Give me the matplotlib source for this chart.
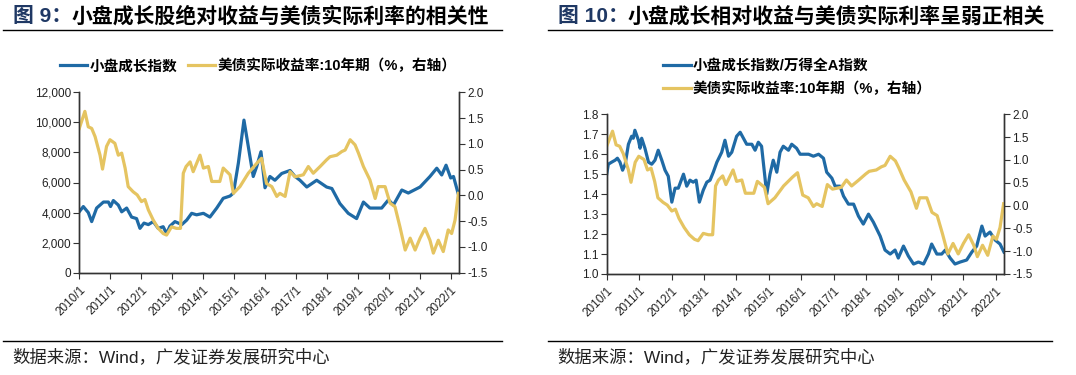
import numpy as np
import matplotlib
matplotlib.use("Agg")
import matplotlib.pyplot as plt
from matplotlib.font_manager import FontProperties
from matplotlib.lines import Line2D
from matplotlib.ticker import FuncFormatter, MultipleLocator

plt.rcParams['font.family'] = ['Liberation Sans', 'Noto Sans CJK SC', 'DejaVu Sans']

# ---- data ----
# small-cap growth index (left chart, left axis)
yr_growth = [2010.00, 2010.13, 2010.29, 2010.40, 2010.56, 2010.78, 2010.94, 2011.01, 2011.10, 2011.26,
             2011.37, 2011.53, 2011.69, 2011.85, 2011.96, 2012.09, 2012.23, 2012.39, 2012.55, 2012.71,
             2012.82, 2012.93, 2013.09, 2013.31, 2013.47, 2013.63, 2013.79, 2014.01, 2014.22, 2014.44,
             2014.65, 2014.87, 2014.98, 2015.14, 2015.32, 2015.46, 2015.62, 2015.73, 2015.87, 2016.00,
             2016.16, 2016.32, 2016.54, 2016.81, 2016.97, 2017.13, 2017.35, 2017.67, 2017.99, 2018.16,
             2018.42, 2018.69, 2018.96, 2019.18, 2019.39, 2019.77, 2019.99, 2020.15, 2020.42, 2020.63,
             2021.01, 2021.33, 2021.55, 2021.71, 2021.85, 2022.00, 2022.09, 2022.25]
growth_idx = [4060, 4400, 4000, 3400, 4300, 4700, 4700, 4400, 4800, 4500,
              4050, 4300, 3700, 3600, 2950, 3300, 3200, 3400, 2950, 3060,
              2600, 3100, 3400, 3200, 3500, 3950, 3850, 3950, 3700, 4300,
              4950, 5100, 5300, 7300, 10150, 8400, 6400, 7050, 8050, 5650,
              6400, 6150, 6600, 6800, 6400, 6150, 5700, 6150, 5700, 5600,
              4600, 3950, 3600, 4700, 4300, 4300, 4850, 4500, 5500, 5300,
              5700, 6400, 6950, 6500, 7150, 6300, 6400, 5200]

# small-cap growth / Wind All A (right chart, left axis)
yr_rel = [2010.00, 2010.05, 2010.15, 2010.26, 2010.33, 2010.41, 2010.49, 2010.57, 2010.67, 2010.77,
          2010.82, 2010.87, 2010.98, 2011.03, 2011.08, 2011.18, 2011.29, 2011.39, 2011.49, 2011.59,
          2011.70, 2011.80, 2011.90, 2012.01, 2012.11, 2012.21, 2012.37, 2012.47, 2012.57, 2012.67,
          2012.76, 2012.86, 2012.98, 2013.09, 2013.19, 2013.29, 2013.40, 2013.55, 2013.65, 2013.76,
          2013.86, 2014.01, 2014.12, 2014.22, 2014.32, 2014.48, 2014.58, 2014.68, 2014.78, 2014.94,
          2015.04, 2015.14, 2015.25, 2015.35, 2015.45, 2015.61, 2015.71, 2015.86, 2015.97, 2016.23,
          2016.38, 2016.54, 2016.69, 2016.79, 2016.95, 2017.05, 2017.20, 2017.31, 2017.46, 2017.62,
          2017.77, 2017.92, 2018.08, 2018.23, 2018.44, 2018.59, 2018.75, 2018.90, 2019.00, 2019.16,
          2019.31, 2019.47, 2019.62, 2019.78, 2019.93, 2020.03, 2020.19, 2020.34, 2020.45, 2020.60,
          2020.75, 2020.91, 2021.11, 2021.27, 2021.42, 2021.58, 2021.68, 2021.83, 2021.99, 2022.14,
          2022.26]
rel_ratio = [1.50, 1.55, 1.56, 1.57, 1.58, 1.56, 1.52, 1.55, 1.65, 1.69,
             1.68, 1.72, 1.67, 1.63, 1.68, 1.63, 1.56, 1.55, 1.57, 1.62,
             1.57, 1.52, 1.49, 1.36, 1.43, 1.43, 1.50, 1.44, 1.47, 1.46,
             1.47, 1.36, 1.42, 1.46, 1.47, 1.51, 1.56, 1.61, 1.67, 1.59,
             1.61, 1.69, 1.71, 1.68, 1.65, 1.65, 1.62, 1.66, 1.64, 1.40,
             1.50, 1.57, 1.51, 1.61, 1.64, 1.62, 1.65, 1.63, 1.60, 1.60,
             1.59, 1.60, 1.58, 1.51, 1.48, 1.44, 1.44, 1.39, 1.35, 1.35,
             1.29, 1.25, 1.30, 1.26, 1.19, 1.12, 1.10, 1.12, 1.08, 1.14,
             1.09, 1.05, 1.06, 1.05, 1.10, 1.15, 1.10, 1.10, 1.12, 1.08,
             1.05, 1.06, 1.07, 1.11, 1.14, 1.24, 1.19, 1.21, 1.17, 1.15,
             1.11]

# US 10y real yield, % (right axis on both charts)
yr_tips = [2010.00, 2010.18, 2010.29, 2010.40, 2010.51, 2010.67, 2010.75, 2010.88, 2010.99, 2011.15,
           2011.26, 2011.37, 2011.48, 2011.58, 2011.74, 2011.87, 2012.01, 2012.12, 2012.23, 2012.39,
           2012.55, 2012.71, 2012.82, 2012.98, 2013.14, 2013.27, 2013.36, 2013.45, 2013.58, 2013.68,
           2013.90, 2014.01, 2014.17, 2014.28, 2014.54, 2014.65, 2014.87, 2014.98, 2015.19, 2015.46,
           2015.73, 2015.89, 2016.05, 2016.22, 2016.38, 2016.48, 2016.65, 2016.81, 2016.97, 2017.24,
           2017.40, 2017.56, 2017.78, 2017.99, 2018.10, 2018.32, 2018.48, 2018.59, 2018.75, 2018.91,
           2019.02, 2019.18, 2019.39, 2019.56, 2019.66, 2019.88, 2020.04, 2020.20, 2020.36, 2020.53,
           2020.69, 2020.85, 2021.01, 2021.17, 2021.33, 2021.44, 2021.60, 2021.76, 2021.92, 2022.03,
           2022.14, 2022.25]
tips_10y = [1.30, 1.63, 1.33, 1.30, 1.14, 0.78, 0.51, 0.95, 1.08, 1.01,
            0.78, 0.82, 0.53, 0.17, 0.07, 0.01, -0.12, -0.08, -0.28, -0.48,
            -0.64, -0.74, -0.77, -0.61, -0.64, -0.64, 0.43, 0.56, 0.65, 0.46,
            0.78, 0.53, 0.56, 0.27, 0.27, 0.53, 0.40, 0.04, 0.17, 0.43,
            0.62, 0.72, 0.23, 0.17, -0.02, 0.04, -0.02, 0.46, 0.36, 0.40,
            0.56, 0.43, 0.56, 0.69, 0.75, 0.78, 0.85, 0.88, 1.08, 0.98,
            0.82, 0.56, 0.30, -0.06, 0.17, 0.17, -0.15, -0.22, -0.61, -1.06,
            -0.83, -1.06, -0.83, -0.64, -0.87, -1.12, -0.87, -1.09, -0.67, -0.74,
            -0.48, 0.04]

years = list(range(2010, 2023))
year_labels = [f"{y}/1" for y in years]

BLUE = "#1f6aa5"
GOLD = "#e5c461"
NAVY = "#1f3864"
W, H = 1076, 375

cjk = ['Liberation Sans', 'Noto Sans CJK SC', 'DejaVu Sans']
title_fp = FontProperties(family=cjk, weight='bold', size=15)
leg_fp = FontProperties(family=cjk, weight='bold', size=10.5)
src_fp = FontProperties(family=cjk, size=12.5)

fig = plt.figure(figsize=(W / 100, H / 100), dpi=100)


def fx(px):
    return px / W


def fy(py):
    return 1 - py / H


def style_axes(ax, ax2, xmax):
    ax.set_xlim(2010, xmax)
    ax.set_xticks(years)
    ax.set_xticklabels(year_labels, rotation=45, ha='right', rotation_mode='anchor', fontsize=7.8)
    for a in (ax, ax2):
        a.spines['top'].set_visible(False)
        for s in ('left', 'right', 'bottom'):
            a.spines[s].set_color('#333333')
            a.spines[s].set_linewidth(1.0)
        a.tick_params(direction='out', length=4, width=0.8, color='#333333', labelsize=8.5,
                      labelcolor='#222222', pad=2)
    ax.tick_params(axis='x', pad=4)
    ax2.set_ylim(-1.5, 2.0)
    ax2.yaxis.set_major_locator(MultipleLocator(0.5))
    ax2.yaxis.set_major_formatter(FuncFormatter(lambda v, p: f"{v:.1f}"))


def decorate(x0, x1, fig_no, title):
    fig.add_artist(Line2D([fx(x0), fx(x1)], [fy(30), fy(30)], color='black', lw=1))
    fig.add_artist(Line2D([fx(x0), fx(x1)], [fy(341), fy(341)], color='black', lw=1))
    fig.text(fx(x0 + 10), fy(16), f"图 {fig_no}：", fontproperties=title_fp, color=NAVY,
             ha='left', va='center')
    off = 69 if fig_no == 9 else 80
    fig.text(fx(x0 + off), fy(16), title, fontproperties=title_fp, color='black',
             ha='left', va='center')
    fig.text(fx(x0 + 9), fy(357), "数据来源：Wind，广发证券发展研究中心", fontproperties=src_fp,
             color='#222222', ha='left', va='center')


# ---- left chart: absolute ----
ax1 = fig.add_axes([fx(79.3), fy(272.7), fx(459 - 79.3), fy(92.3) - fy(272.7)])
ax1b = ax1.twinx()
l1, = ax1.plot(yr_growth, growth_idx, color=BLUE, lw=2.3, label="小盘成长指数")
l2, = ax1b.plot(yr_tips, tips_10y, color=GOLD, lw=2.3, label="美债实际收益率:10年期（%，右轴）")
ax1.set_ylim(0, 12000)
ax1.yaxis.set_major_locator(MultipleLocator(2000))
ax1.yaxis.set_major_formatter(FuncFormatter(lambda v, p: f"{v:,.0f}"))
style_axes(ax1, ax1b, 2010 + (459 - 79.3) / 30.95)
fig.legend(handles=[l1, l2], loc='center', bbox_to_anchor=(fx(258), fy(66)), ncol=2,
           frameon=False, prop=leg_fp, handlelength=1.9, handletextpad=0.15,
           columnspacing=0.7, borderaxespad=0)
decorate(3, 502, 9, "小盘成长股绝对收益与美债实际利率的相关性")

# ---- right chart: relative ----
ax3 = fig.add_axes([fx(606.7), fy(274), fx(1004 - 606.7), fy(114.3) - fy(274)])
ax3b = ax3.twinx()
l3, = ax3.plot(yr_rel, rel_ratio, color=BLUE, lw=2.3, label="小盘成长指数/万得全A指数")
l4, = ax3b.plot(yr_tips, tips_10y, color=GOLD, lw=2.3, label="美债实际收益率:10年期（%，右轴）")
ax3.set_ylim(1.0, 1.8)
ax3.yaxis.set_major_locator(MultipleLocator(0.1))
ax3.yaxis.set_major_formatter(FuncFormatter(lambda v, p: f"{v:.1f}"))
style_axes(ax3, ax3b, 2010 + (1004 - 606.7) / 32.4)
fig.legend(handles=[l3, l4], loc='upper left', bbox_to_anchor=(fx(657), fy(53)), ncol=1,
           frameon=False, prop=leg_fp, handlelength=1.9, handletextpad=0.15,
           labelspacing=0.6, borderaxespad=0)
decorate(548, 1052, 10, "小盘成长相对收益与美债实际利率呈弱正相关")

fig.savefig("out.png", dpi=100)
